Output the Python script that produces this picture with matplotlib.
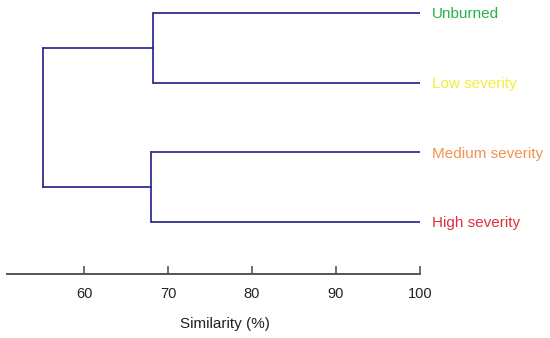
import matplotlib.pyplot as plt

plt.rcParams["font.family"] = ["Liberation Sans", "DejaVu Sans"]

# leaves, top to bottom
labels = ["Unburned", "Low severity", "Medium severity", "High severity"]
label_colors = ["#27b04a", "#f2ee3a", "#f39150", "#e0303f"]
leaf_similarity = 100.0
# clusters: (first leaf, second leaf, similarity %)
pair_merges = [(0, 1, 68.2), (2, 3, 68.0)]
root_similarity = 55.1
ticks = [60, 70, 80, 90, 100]

line_color = "#28288f"
lw = 1.25

fig = plt.figure(figsize=(5.5, 3.38), dpi=100)
ax = fig.add_axes([7 / 550, 1 - 274 / 338, 413 / 550, 274 / 338])
ax.set_xlim(50.83, 100)
ax.set_ylim(-0.746, 3.185)

n = len(labels)
leaf_y = [n - 1 - i for i in range(n)]

mids = []
for a, b, sim in pair_merges:
    ya, yb = leaf_y[a], leaf_y[b]
    for y in (ya, yb):
        ax.plot([sim, leaf_similarity], [y, y], color=line_color, lw=lw, solid_capstyle="butt")
    ax.plot([sim, sim], [ya, yb], color=line_color, lw=lw)
    mid = (ya + yb) / 2
    mids.append((sim, mid))
    for i, y in ((a, ya), (b, yb)):
        ax.text(leaf_similarity + 1.4, y - 0.02, labels[i], color=label_colors[i], fontsize=11,
                va="center", ha="left", clip_on=False)

for sim, mid in mids:
    ax.plot([root_similarity, sim], [mid, mid], color=line_color, lw=lw)
ax.plot([root_similarity, root_similarity], [mids[0][1], mids[1][1]], color=line_color, lw=lw)

for side in ("top", "right", "left"):
    ax.spines[side].set_visible(False)
ax.spines["bottom"].set_color("#555555")
ax.spines["bottom"].set_linewidth(1.4)
ax.set_yticks([])
ax.set_xticks(ticks)
ax.tick_params(axis="x", direction="in", length=6, width=1.2, color="#555555",
               labelsize=10.5, pad=9, labelcolor="#222222")
fig.text(225 / 550, 1 - 324 / 338, "Similarity (%)", ha="center", va="center",
         fontsize=11, color="#222222")

fig.savefig("out.png", dpi=100)
